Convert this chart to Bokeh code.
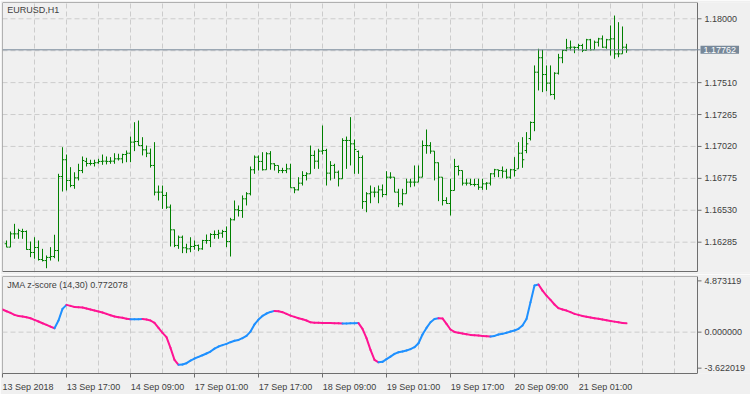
import numpy as np
from bokeh.plotting import figure
from bokeh.layouts import column
from bokeh.models import (Range1d, FixedTicker, Label, Grid, ColumnDataSource)
from bokeh.core.properties import value
from bokeh.embed import file_html
from bokeh.resources import INLINE

# ---------------- data (EURUSD H1, bars 1..156) ----------------
open_ = [1.16273, 1.16247, 1.16349, 1.16349, 1.16367, 1.16367, 1.16229, 1.16206, 1.16244, 1.16152,
         1.16144, 1.16168, 1.16175, 1.16221, 1.16789, 1.16918, 1.16759, 1.16720, 1.16779, 1.16835,
         1.16905, 1.16889, 1.16889, 1.16895, 1.16905, 1.16907, 1.16905, 1.16907, 1.16925, 1.16925,
         1.16958, 1.16968, 1.17053, 1.17058, 1.17027, 1.16994, 1.16968, 1.16874, 1.16669, 1.16669,
         1.16644, 1.16554, 1.16380, 1.16260, 1.16323, 1.16242, 1.16234, 1.16252, 1.16260, 1.16234,
         1.16298, 1.16298, 1.16344, 1.16344, 1.16354, 1.16367, 1.16290, 1.16457, 1.16534, 1.16528,
         1.16618, 1.16657, 1.16841, 1.16938, 1.16905, 1.16841, 1.16964, 1.16887, 1.16874, 1.16835,
         1.16835, 1.16848, 1.16703, 1.16687, 1.16738, 1.16797, 1.16810, 1.16951, 1.16907, 1.16984,
         1.16989, 1.16815, 1.16874, 1.16822, 1.16772, 1.17066, 1.17066, 1.17040, 1.16981, 1.16935,
         1.16597, 1.16657, 1.16669, 1.16669, 1.16687, 1.16651, 1.16784, 1.16784, 1.16669, 1.16580,
         1.16657, 1.16746, 1.16746, 1.16746, 1.16784, 1.17027, 1.17027, 1.16984, 1.16895, 1.16784,
         1.16605, 1.16582, 1.16682, 1.16866, 1.16835, 1.16738, 1.16738, 1.16728, 1.16728, 1.16707,
         1.16733, 1.16738, 1.16810, 1.16841, 1.16835, 1.16830, 1.16784, 1.16841, 1.16848, 1.16968,
         1.16989, 1.17081, 1.17204, 1.17590, 1.17701, 1.17572, 1.17506, 1.17419, 1.17582, 1.17701,
         1.17757, 1.17777, 1.17782, 1.17780, 1.17795, 1.17757, 1.17839, 1.17762, 1.17820, 1.17846,
         1.17782, 1.17839, 1.17846, 1.17731, 1.17731, 1.17782]
high = [1.16298, 1.16367, 1.16426, 1.16388, 1.16388, 1.16375, 1.16290, 1.16323, 1.16298, 1.16234,
        1.16183, 1.16247, 1.16342, 1.16810, 1.17014, 1.16958, 1.16861, 1.16822, 1.16887, 1.16943,
        1.16933, 1.16918, 1.16918, 1.16925, 1.16958, 1.16943, 1.16938, 1.16968, 1.16964, 1.16964,
        1.16989, 1.17096, 1.17206, 1.17219, 1.17091, 1.17027, 1.17004, 1.17053, 1.16720, 1.16720,
        1.16669, 1.16574, 1.16382, 1.16336, 1.16336, 1.16273, 1.16323, 1.16298, 1.16267, 1.16303,
        1.16344, 1.16354, 1.16375, 1.16380, 1.16380, 1.16406, 1.16472, 1.16605, 1.16567, 1.16644,
        1.16669, 1.16866, 1.16951, 1.16951, 1.16976, 1.16976, 1.16984, 1.16891, 1.16874, 1.16856,
        1.16887, 1.16887, 1.16707, 1.16784, 1.16830, 1.16822, 1.17027, 1.16989, 1.17002, 1.17181,
        1.17002, 1.16907, 1.16887, 1.16835, 1.17083, 1.17096, 1.17245, 1.17073, 1.16989, 1.16951,
        1.16669, 1.16720, 1.16707, 1.16720, 1.16728, 1.16830, 1.16822, 1.16784, 1.16695, 1.16695,
        1.16772, 1.16772, 1.16874, 1.16874, 1.17066, 1.17150, 1.17053, 1.16984, 1.16897, 1.16784,
        1.16630, 1.16772, 1.16925, 1.16874, 1.16835, 1.16772, 1.16772, 1.16772, 1.16772, 1.16772,
        1.16746, 1.16815, 1.16848, 1.16841, 1.16866, 1.16848, 1.16848, 1.16938, 1.17053, 1.17091,
        1.17130, 1.17212, 1.17642, 1.17770, 1.17762, 1.17642, 1.17642, 1.17590, 1.17731, 1.17762,
        1.17846, 1.17833, 1.17787, 1.17808, 1.17808, 1.17846, 1.17846, 1.17833, 1.17854, 1.17872,
        1.17846, 1.17949, 1.18025, 1.17974, 1.17941, 1.17808]
low = [1.16247, 1.16247, 1.16311, 1.16311, 1.16311, 1.16227, 1.16170, 1.16158, 1.16144, 1.16137,
       1.16085, 1.16144, 1.16162, 1.16137, 1.16674, 1.16682, 1.16707, 1.16695, 1.16759, 1.16815,
       1.16866, 1.16874, 1.16866, 1.16887, 1.16879, 1.16882, 1.16887, 1.16887, 1.16912, 1.16891,
       1.16899, 1.16899, 1.16984, 1.17027, 1.16951, 1.16938, 1.16858, 1.16644, 1.16605, 1.16541,
       1.16541, 1.16252, 1.16247, 1.16234, 1.16201, 1.16201, 1.16208, 1.16227, 1.16216, 1.16227,
       1.16273, 1.16247, 1.16311, 1.16311, 1.16319, 1.16247, 1.16175, 1.16452, 1.16482, 1.16472,
       1.16567, 1.16644, 1.16810, 1.16835, 1.16835, 1.16841, 1.16841, 1.16835, 1.16815, 1.16815,
       1.16815, 1.16703, 1.16661, 1.16682, 1.16720, 1.16759, 1.16810, 1.16848, 1.16848, 1.16958,
       1.16720, 1.16759, 1.16772, 1.16713, 1.16772, 1.16848, 1.16874, 1.16810, 1.16810, 1.16541,
       1.16515, 1.16584, 1.16630, 1.16584, 1.16630, 1.16644, 1.16772, 1.16669, 1.16554, 1.16567,
       1.16657, 1.16707, 1.16713, 1.16746, 1.16784, 1.16964, 1.16964, 1.16759, 1.16600, 1.16567,
       1.16580, 1.16490, 1.16682, 1.16797, 1.16720, 1.16720, 1.16720, 1.16713, 1.16687, 1.16687,
       1.16687, 1.16720, 1.16784, 1.16784, 1.16779, 1.16772, 1.16772, 1.16789, 1.16848, 1.16856,
       1.16968, 1.17066, 1.17137, 1.17450, 1.17437, 1.17444, 1.17411, 1.17380, 1.17572, 1.17659,
       1.17751, 1.17757, 1.17736, 1.17757, 1.17744, 1.17757, 1.17757, 1.17762, 1.17787, 1.17777,
       1.17770, 1.17718, 1.17693, 1.17705, 1.17731, 1.17739]
close = [1.16247, 1.16349, 1.16349, 1.16375, 1.16367, 1.16229, 1.16206, 1.16244, 1.16152, 1.16144,
         1.16168, 1.16175, 1.16221, 1.16789, 1.16918, 1.16759, 1.16720, 1.16779, 1.16835, 1.16912,
         1.16889, 1.16889, 1.16895, 1.16905, 1.16907, 1.16905, 1.16907, 1.16925, 1.16925, 1.16958,
         1.16968, 1.17053, 1.17058, 1.17027, 1.16994, 1.16968, 1.16874, 1.16669, 1.16669, 1.16644,
         1.16554, 1.16380, 1.16260, 1.16323, 1.16242, 1.16234, 1.16252, 1.16260, 1.16234, 1.16298,
         1.16298, 1.16344, 1.16344, 1.16354, 1.16367, 1.16290, 1.16457, 1.16534, 1.16528, 1.16618,
         1.16657, 1.16841, 1.16938, 1.16905, 1.16841, 1.16964, 1.16887, 1.16874, 1.16835, 1.16835,
         1.16848, 1.16703, 1.16687, 1.16738, 1.16797, 1.16810, 1.16951, 1.16907, 1.16984, 1.16989,
         1.16815, 1.16874, 1.16822, 1.16772, 1.17066, 1.17066, 1.17040, 1.16997, 1.16935, 1.16597,
         1.16657, 1.16669, 1.16669, 1.16687, 1.16651, 1.16784, 1.16784, 1.16669, 1.16580, 1.16657,
         1.16746, 1.16746, 1.16746, 1.16784, 1.17027, 1.17027, 1.16984, 1.16895, 1.16784, 1.16605,
         1.16582, 1.16682, 1.16866, 1.16835, 1.16738, 1.16738, 1.16728, 1.16728, 1.16707, 1.16733,
         1.16738, 1.16810, 1.16841, 1.16835, 1.16830, 1.16784, 1.16841, 1.16835, 1.16968, 1.16918,
         1.17040, 1.17204, 1.17590, 1.17701, 1.17572, 1.17506, 1.17419, 1.17582, 1.17701, 1.17757,
         1.17777, 1.17782, 1.17780, 1.17795, 1.17757, 1.17839, 1.17762, 1.17820, 1.17846, 1.17782,
         1.17839, 1.17846, 1.17731, 1.17731, 1.17782, 1.17762]

# JMA z-score (14,30), bars 0..156
jma = [1.98, 1.83, 1.69, 1.51, 1.42, 1.37, 1.31, 1.22, 1.07, 0.93,
       0.78, 0.64, 0.49, 0.34, 1.02, 2.04, 2.39, 2.30, 2.21, 2.18,
       2.15, 2.07, 1.98, 1.89, 1.80, 1.72, 1.60, 1.48, 1.37, 1.31,
       1.26, 1.18, 1.12, 1.13, 1.14, 1.15, 1.10, 1.02, 0.81, 0.37,
       -0.06, -0.44, -1.38, -2.43, -2.86, -2.84, -2.72, -2.49, -2.31, -2.17,
       -2.02, -1.87, -1.70, -1.44, -1.26, -1.14, -1.03, -0.88, -0.76, -0.68,
       -0.53, -0.33, 0.05, 0.67, 1.10, 1.42, 1.63, 1.77, 1.86, 1.83,
       1.75, 1.60, 1.45, 1.34, 1.22, 1.13, 1.02, 0.86, 0.83, 0.82,
       0.81, 0.80, 0.79, 0.78, 0.77, 0.75, 0.76, 0.77, 0.78, 0.79,
       0.29, -0.53, -1.55, -2.43, -2.64, -2.60, -2.37, -2.14, -1.90, -1.76,
       -1.70, -1.61, -1.49, -1.32, -0.97, -0.21, 0.37, 0.87, 1.15, 1.22,
       1.20, 0.72, 0.23, 0.02, -0.06, -0.12, -0.18, -0.24, -0.27, -0.30,
       -0.33, -0.36, -0.39, -0.33, -0.21, -0.15, -0.06, 0.05, 0.14, 0.29,
       0.58, 1.16, 2.62, 4.08, 4.17, 3.64, 3.20, 2.83, 2.42, 2.10,
       1.98, 1.89, 1.75, 1.60, 1.51, 1.42, 1.34, 1.28, 1.22, 1.17,
       1.10, 1.04, 0.98, 0.92, 0.86, 0.81, 0.772078]

bid = 1.17762
price_ticks = [1.16285, 1.16530, 1.16775, 1.17020, 1.17265, 1.17510, 1.17755, 1.18000]
price_range = (1.160523, 1.181251)
jma_range = (-3.622019, 4.873119)
time_label_bars = [0, 16, 32, 48, 64, 80, 96, 112, 128, 144]
time_labels = ["13 Sep 2018", "13 Sep 17:00", "14 Sep 09:00", "17 Sep 01:00",
               "17 Sep 17:00", "18 Sep 09:00", "19 Sep 01:00", "19 Sep 17:00",
               "20 Sep 09:00", "21 Sep 01:00"]
symbol_title = "EURUSD,H1"
ind_title = "JMA z-score (14,30) 0.772078"

# ---------------- style ----------------
FONT = "Liberation Sans"
FS = "9px"
BG = "#f0f0f0"
FRAME = "#6e6e6e"
TEXT = "#404040"
GRID = "#cccccc"
GREEN = "#008000"
SLATE = "#778899"
PINK = "#ff1493"
BLUE = "#1e90ff"

PX_PER_BAR = 4
BARS_VISIBLE = 173.75          # chart area width in bars (695 px)
X_END = (750 - 2) / PX_PER_BAR # frames run to the window edge (scale column inside)
P1_H = 270                     # price pane frame height, px
TICK = 1.0                     # scale tick length in bars (4 px)
LAB_X = BARS_VISIBLE + 7 / PX_PER_BAR
grid_x = list(range(8, int(BARS_VISIBLE) + 1, 8))


def scale_column(p, ticks, labels, y_lo, y_hi):
    """Chart borders, scale ticks and scale labels drawn inside the wide frame."""
    p.segment(x0=[0, 0, BARS_VISIBLE], y0=[y_hi, y_lo, y_lo],
              x1=[BARS_VISIBLE, 0, BARS_VISIBLE], y1=[y_hi, y_hi, y_hi],
              line_color=FRAME, line_width=1)
    p.segment(x0=[BARS_VISIBLE] * len(ticks), y0=ticks,
              x1=[BARS_VISIBLE + TICK] * len(ticks), y1=ticks,
              line_color=FRAME, line_width=1)
    p.text(x=[LAB_X] * len(ticks), y=ticks, text=labels,
           text_font=value(FONT), text_font_size=FS, text_color=TEXT,
           text_align="left", text_baseline="middle")


def hgrid(p, ys):
    p.segment(x0=[0] * len(ys), y0=ys, x1=[BARS_VISIBLE] * len(ys), y1=ys,
              line_color=GRID, line_dash="5 3", line_width=1)


# ---------------- price pane ----------------
p1 = figure(width=750, height=274,
            x_range=Range1d(0, X_END), y_range=Range1d(*price_range),
            output_backend="svg", toolbar_location=None,
            x_axis_location=None, y_axis_location=None,
            min_border_left=2, min_border_right=0, min_border_top=2, min_border_bottom=2,
            background_fill_color=BG, border_fill_color=BG, outline_line_color=None)
for g in p1.grid:
    g.visible = False

p1.add_layout(Grid(dimension=0, ticker=FixedTicker(ticks=grid_x), grid_line_color=GRID,
                   grid_line_dash="5 3", grid_line_width=1))
hgrid(p1, price_ticks)

px_y = (price_range[1] - price_range[0]) / P1_H
y_bot1 = price_range[0] + px_y
p1.segment(x0=[0], y0=[y_bot1], x1=[BARS_VISIBLE], y1=[y_bot1], line_color=FRAME, line_width=1)
shown_ticks = [t for t in price_ticks if abs(t - bid) > 0.0005]
scale_column(p1, shown_ticks, [f"{t:.5f}" for t in shown_ticks], y_bot1, price_range[1])

bar_x = np.arange(1, len(close) + 1)
src = ColumnDataSource(dict(x=bar_x, xl=bar_x - 0.45, xr=bar_x + 0.45,
                            o=open_, h=high, l=low, c=close))
p1.segment(x0="x", y0="l", x1="x", y1="h", source=src, line_color=GREEN, line_width=1)
p1.segment(x0="xl", y0="o", x1="x", y1="o", source=src, line_color=GREEN, line_width=1)
p1.segment(x0="x", y0="c", x1="xr", y1="c", source=src, line_color=GREEN, line_width=1)

bid_x = BARS_VISIBLE + 3 / PX_PER_BAR
p1.segment(x0=[0], y0=[bid], x1=[bid_x], y1=[bid], line_color=SLATE, line_width=1)
p1.add_layout(Label(x=bid_x, y=bid, text=f"{bid:.5f}",
                    text_font=FONT, text_font_size=FS, text_color="white",
                    text_align="left", text_baseline="middle",
                    background_fill_color=SLATE, padding=(3, 1)))
p1.add_layout(Label(x=4.7, y=267.5, x_units="screen", y_units="screen", text=symbol_title,
                    text_font=FONT, text_font_size=FS, text_color=TEXT,
                    text_align="left", text_baseline="top"))

# ---------------- indicator pane ----------------
p2 = figure(width=750, height=120, x_range=Range1d(0, X_END), y_range=Range1d(*jma_range),
            output_backend="svg", toolbar_location=None,
            x_axis_location="below", y_axis_location=None,
            min_border_left=2, min_border_right=0, min_border_top=2, min_border_bottom=21,
            background_fill_color=BG, border_fill_color=BG, outline_line_color=None)
for g in p2.grid:
    g.visible = False

span = jma_range[1] - jma_range[0]
top_t = jma_range[1] - span * 0.045
bot_t = jma_range[0] + span * 0.055
scale_column(p2, [bot_t, 0.0, top_t],
             [f"{jma_range[0]:.6f}", "0.000000", f"{jma_range[1]:.6f}"],
             jma_range[0], jma_range[1])

label_centers = [b + (6.4 if i == 0 else 6.75) for i, b in enumerate(time_label_bars)]
axx = p2.xaxis[0]
axx.bounds = (0, BARS_VISIBLE)
axx.ticker = FixedTicker(ticks=label_centers, minor_ticks=time_label_bars)
axx.major_label_overrides = {c: t for c, t in zip(label_centers, time_labels)}
axx.axis_line_color = FRAME
axx.major_tick_in = 0
axx.major_tick_out = 0
axx.major_tick_line_color = None
axx.minor_tick_in = 0
axx.minor_tick_out = 4
axx.minor_tick_line_color = FRAME
axx.major_label_standoff = 4
axx.major_label_text_font = FONT
axx.major_label_text_font_size = FS
axx.major_label_text_color = TEXT

p2.add_layout(Grid(dimension=0, ticker=FixedTicker(ticks=grid_x), grid_line_color=GRID,
                   grid_line_dash="5 3", grid_line_width=1))
hgrid(p2, [0.0])

jx = np.arange(len(jma))
jv = np.array(jma)
seg_colors = [BLUE if jv[i] > jv[i - 1] else PINK for i in range(1, len(jv))]
jsrc = ColumnDataSource(dict(x0=jx[:-1], y0=jv[:-1], x1=jx[1:], y1=jv[1:], c=seg_colors))
p2.segment(x0="x0", y0="y0", x1="x1", y1="y1", source=jsrc, line_color="c",
           line_width=2, line_cap="round")

p2.add_layout(Label(x=4.7, y=94, x_units="screen", y_units="screen", text=ind_title,
                    text_font=FONT, text_font_size=FS, text_color=TEXT,
                    text_align="left", text_baseline="top"))

layout = column(p1, p2, spacing=0)
open("out.html", "w").write(file_html(layout, INLINE))
